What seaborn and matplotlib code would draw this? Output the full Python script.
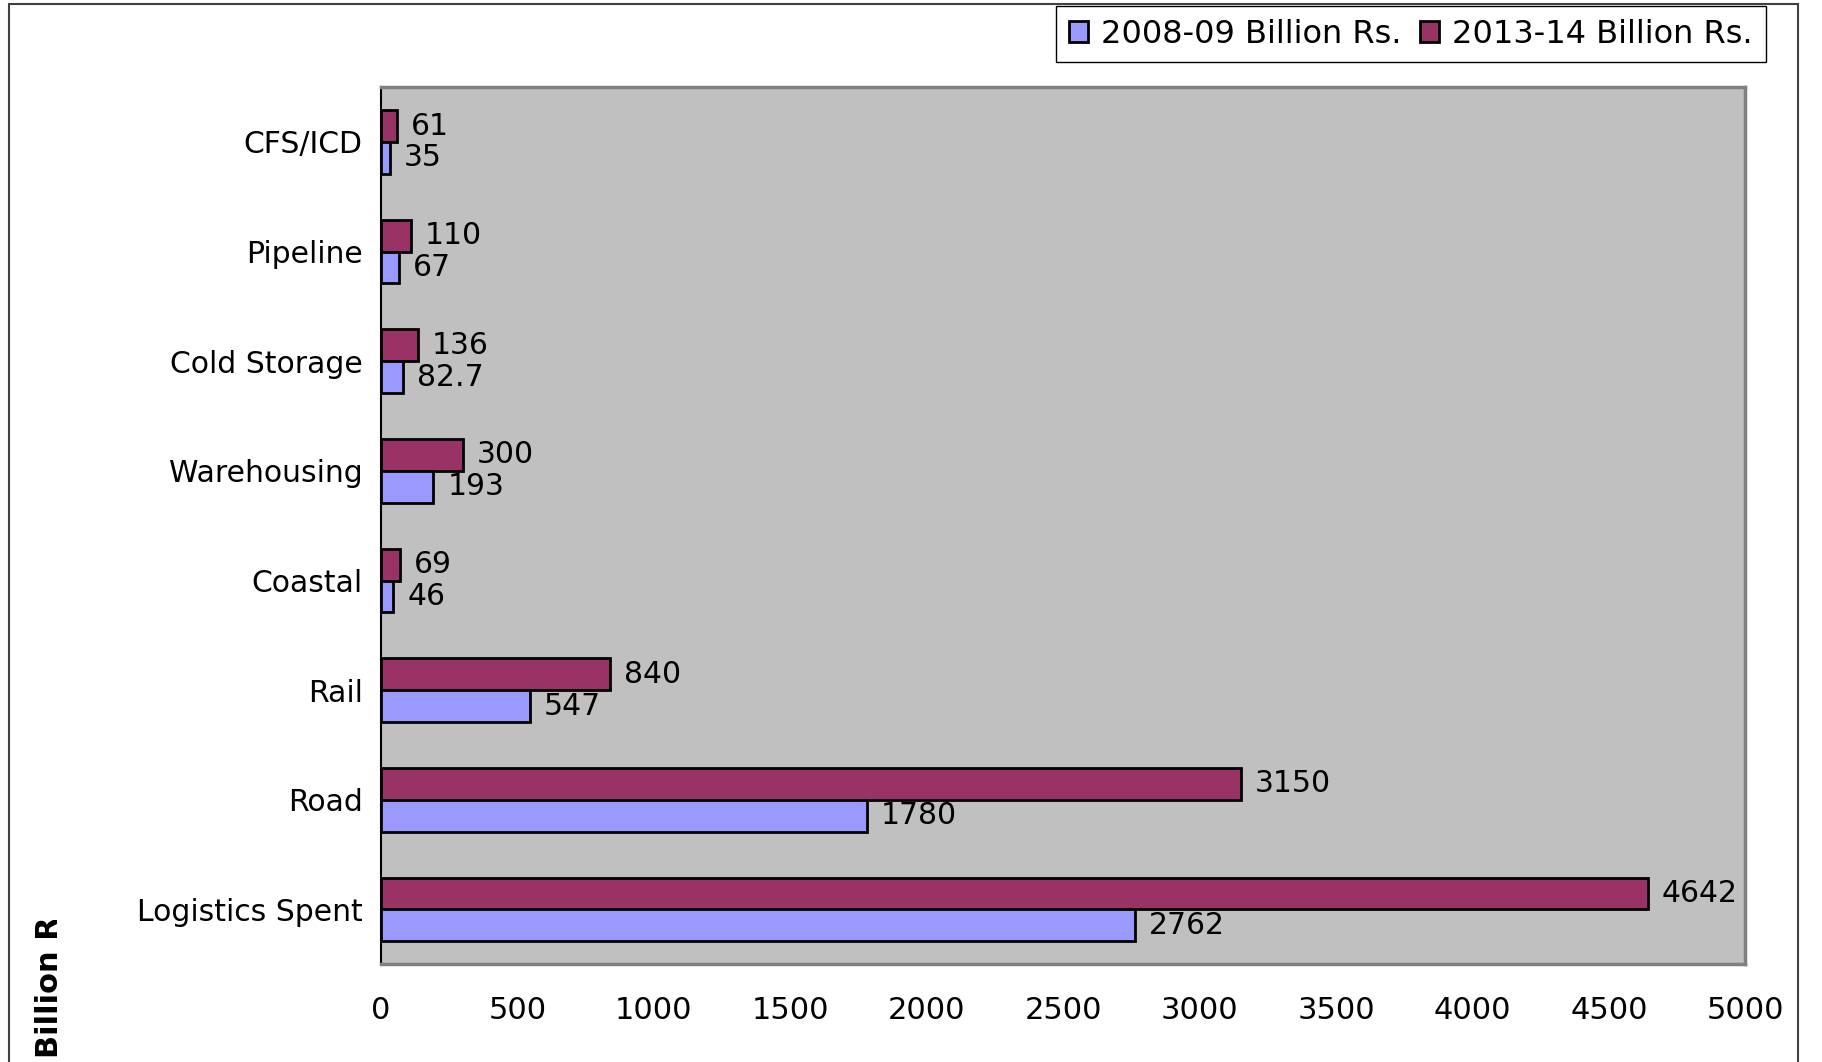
import numpy as np
import pandas as pd
import matplotlib
matplotlib.use("Agg")
import matplotlib.pyplot as plt
import seaborn as sns
from matplotlib.patches import Patch, Rectangle
from matplotlib.transforms import Bbox

categories = ["CFS/ICD", "Pipeline", "Cold Storage", "Warehousing", "Coastal", "Rail", "Road", "Logistics Spent"]
spend_0809 = [35, 67, 82.7, 193, 46, 547, 1780, 2762]
spend_1314 = [61, 110, 136, 300, 69, 840, 3150, 4642]
series = ["2008-09 Billion Rs.", "2013-14 Billion Rs."]
x_ticks = [0, 500, 1000, 1500, 2000, 2500, 3000, 3500, 4000, 4500, 5000]

df = pd.DataFrame({
    "Segment": categories * 2,
    "Value": spend_0809 + spend_1314,
    "Year": [series[0]] * len(categories) + [series[1]] * len(categories),
})

sns.set_style("white")
plt.rcParams['font.family'] = ['DejaVu Sans']
plt.rcParams['text.color'] = 'black'
plt.rcParams['xtick.color'] = 'black'
plt.rcParams['ytick.color'] = 'black'
plt.rcParams['axes.labelcolor'] = 'black'

blue = "#9999FF"
maroon = "#993366"

fig = plt.figure(figsize=(18.22, 10.62), dpi=100)
ax = fig.add_axes([0.209, 0.092, 0.749, 0.826])
ax.set_facecolor("#C0C0C0")

sns.barplot(data=df, y="Segment", x="Value", hue="Year", order=categories,
            hue_order=[series[1], series[0]], palette={series[0]: blue, series[1]: maroon},
            orient="h", width=0.58, edgecolor="black", linewidth=2, saturation=1,
            legend=False, ax=ax)

# value labels
for cont in ax.containers:
    labels = [f"{b.get_width():g}" for b in cont]
    ax.bar_label(cont, labels=labels, padding=10, fontsize=21.5, color="black")

ax.set_xlim(0, 5000)
ax.set_ylim(len(categories) - 0.5, -0.5)
ax.set_xticks(x_ticks)
ax.set_xticklabels([str(t) for t in x_ticks], fontsize=22)
ax.set_yticks(range(len(categories)))
ax.set_yticklabels(categories, fontsize=21.5)
ax.set_yticks(np.arange(-0.5, len(categories), 1.0), minor=True)
ax.tick_params(axis="y", which="major", length=0, pad=13)
ax.tick_params(axis="y", which="minor", length=9, width=1.2, color="black", direction="out")
ax.tick_params(axis="x", which="major", length=9, width=1.2, color="black", direction="out", pad=14)
ax.set_xlabel("")
ax.set_ylabel("")

for s in ["top", "right", "bottom"]:
    ax.spines[s].set_color("#808080")
    ax.spines[s].set_linewidth(2.5)
ax.spines["left"].set_color("black")
ax.spines["left"].set_linewidth(1.5)

# legend
handles = [Patch(facecolor=blue, edgecolor="black", linewidth=2, label=series[0]),
           Patch(facecolor=maroon, edgecolor="black", linewidth=2, label=series[1])]
leg = fig.legend(handles=handles, loc="upper right", bbox_to_anchor=(0.969, 0.9945), ncol=2,
                 fontsize=23, frameon=True, fancybox=False, framealpha=1, edgecolor="black",
                 handlelength=0.6, handleheight=0.6, handletextpad=0.4, columnspacing=0.6,
                 borderpad=0.4, borderaxespad=0)
leg.get_frame().set_linewidth(1)

# outer chart border
fig.patches.append(Rectangle((0.005, -0.01), 0.982, 1.006, transform=fig.transFigure,
                             fill=False, edgecolor="#404040", linewidth=1.5))

# clipped axis title
t = fig.text(0.027, 0.004, "Billion Rs.", rotation=90, ha="center", va="bottom",
             fontsize=22, fontweight="bold")
t.set_clip_box(Bbox.from_extents(0, 0, fig.bbox.width, 0.134 * fig.bbox.height))
t.set_clip_on(True)

fig.savefig("out.png", dpi=100)
